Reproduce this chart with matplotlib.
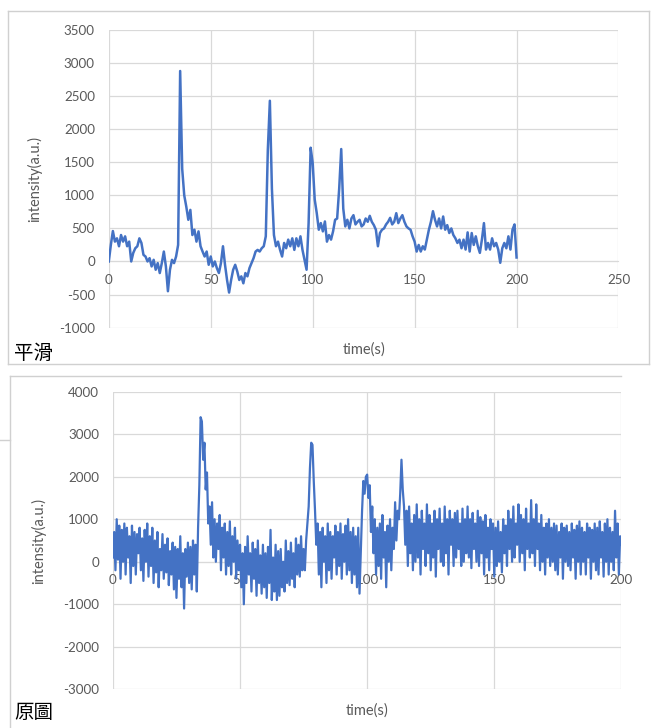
import matplotlib
matplotlib.use("Agg")
import matplotlib.pyplot as plt
from matplotlib.lines import Line2D

# smoothed signal, 1 s steps
smooth_t = list(range(0, 201))
smooth_vals = [
    0, 250, 460, 300, 350, 230, 400, 300, 380, 230,
    300, 0, 130, 200, 230, 350, 280, 100, 75, 0,
    50, -75, 25, -125, -25, -175, -25, 150, -75, -450,
    -125, 25, -25, 75, 250, 2880, 1400, 1000, 830, 630,
    780, 400, 480, 300, 455, 230, 150, 75, 150, -50,
    75, -75, 0, -100, -175, -25, 230, -50, -280, -470,
    -280, -125, -50, -150, -280, -225, -330, -175, -225, -100,
    -25, 50, 150, 175, 150, 200, 230, 380, 1690, 2430,
    1100, 400, 230, 300, 175, 75, 280, 200, 330, 230,
    350, 175, 350, 230, 380, 175, 25, -125, 580, 1720,
    1490, 935, 730, 480, 580, 455, 605, 300, 400, 330,
    455, 630, 650, 1100, 1700, 800, 530, 630, 500, 650,
    700, 560, 600, 630, 530, 560, 650, 600, 690, 600,
    550, 480, 230, 430, 480, 500, 560, 600, 660, 560,
    600, 730, 580, 650, 700, 600, 530, 500, 480, 380,
    300, 150, 250, 150, 230, 180, 330, 480, 600, 760,
    630, 530, 650, 500, 680, 480, 550, 430, 500, 400,
    350, 280, 330, 200, 330, 180, 440, 150, 430, 250,
    380, 230, 130, 330, 580, 180, 280, 180, 350, 230,
    280, 180, -20, 200, 280, 200, 380, 180, 480, 560,
    60,
]

# raw signal, 0.5 s steps
raw_t = [i * 0.5 for i in range(401)]
raw_vals = [
    100, 700, -200, 1000, 50, 850, -400, 750, 0, 900,
    -300, 800, 100, 600, -500, 850, -100, 700, -300, 650,
    200, 800, -200, 550, -450, 750, 0, 900, -350, 600,
    -100, 800, -500, 500, -250, 700, -600, 300, -200, 650,
    -400, 400, -250, 550, -550, 250, -300, 450, -650, 350,
    -850, 300, -400, 600, -600, 200, -1100, 300, -350, 450,
    -500, 350, -650, 500, -300, 400, -700, 800, 1800, 3400,
    3300, 2400, 2800, 1700, 2100, 900, 1300, 400, 1400, 100,
    1000, 0, 900, 300, 1100, -200, 800, 100, 900, -300,
    700, -100, 950, -300, 600, 0, 800, -400, 500, -200,
    400, -600, 200, -1000, 350, -500, 600, -300, 200, -700,
    450, -400, 300, -800, 500, -500, 150, -750, 400, -600,
    200, -850, 350, -500, 750, -900, 100, -700, 400, -900,
    250, -800, 300, -600, 0, -700, 500, -500, 250, -550,
    450, -400, 200, -600, 550, -300, 400, -350, 600, -200,
    300, -200, 500, 900, 1300, 2200, 2800, 2750, 1900, 1200,
    400, 900, -300, 700, -600, 800, 0, 600, -500, 900,
    -200, 700, -400, 600, 100, 850, -300, 700, -100, 900,
    -400, 650, 0, 850, -300, 1000, -200, 700, -500, 800,
    -300, 600, -600, 800, -750, 200, 1200, 1900, 1600, 2000,
    2050, 1500, 1800, 700, 1300, 200, 1000, -300, 800, -100,
    900, -400, 1100, 100, 700, -600, 850, 0, 1000, -200,
    800, 300, 1400, 500, 1200, 1000, 1600, 2400, 1700, 1300,
    400, 1200, -100, 1300, 200, 900, -200, 1100, 0, 1350,
    100, 1000, -300, 1200, 300, 900, -100, 1350, 200, 1100,
    -200, 900, 100, 1200, -350, 1000, 300, 1250, 0, 900,
    -100, 1300, 200, 1000, -300, 1200, 400, 1000, -100, 1150,
    100, 1200, 300, 900, -100, 1250, 0, 1000, 200, 1300,
    100, 1000, -150, 1150, 300, 900, 0, 1200, -100, 1050,
    200, 950, -300, 1100, 100, 800, -200, 1000, 300, 900,
    -350, 800, -100, 950, 0, 700, -250, 1000, 200, 850,
    -100, 1200, 300, 1000, 0, 1300, 100, 900, 400, 1350,
    0, 1100, 200, 1000, -200, 1250, 300, 900, 100, 1450,
    200, 1000, -100, 1350, 300, 900, -200, 1100, 0, 800,
    -300, 900, 100, 1000, -100, 800, 0, 900, -200, 850,
    -300, 700, 100, 900, -400, 800, 0, 850, -100, 700,
    -200, 900, 100, 750, -400, 850, 0, 950, -300, 800,
    0, 700, -300, 900, 100, 800, -400, 750, 0, 900,
    -200, 800, -300, 950, 100, 700, -350, 900, 0, 1000,
    -300, 800, 0, 700, -200, 1200, 100, 900, -300, 600,
    400,
]

W, H = 651, 728
BLUE = "#4472C4"
GRID = "#D9D9D9"
TXT = "#595959"
plt.rcParams["font.family"] = ["Lato", "DejaVu Sans"]
plt.rcParams["axes.unicode_minus"] = False

fig = plt.figure(figsize=(W / 100, H / 100), dpi=100)


def px_axes(x0, y0, x1, y1):
    # pixel box (top-left origin) -> figure axes
    return fig.add_axes([x0 / W, 1 - y1 / H, (x1 - x0) / W, (y1 - y0) / H])


def px_line(xs, ys, color="#D0D0D0", lw=1.0):
    fig.add_artist(Line2D([x / W for x in xs], [1 - y / H for y in ys],
                          color=color, lw=lw, transform=fig.transFigure))


def style_axes(ax, xlim, xticks, ylim, yticks):
    ax.set_xlim(*xlim)
    ax.set_ylim(*ylim)
    ax.set_xticks(xticks)
    ax.set_yticks(yticks)
    ax.grid(True, color=GRID, lw=0.9)
    ax.set_axisbelow(True)
    for s in ["top", "right", "left"]:
        ax.spines[s].set_visible(False)
    ax.spines["bottom"].set_position(("data", 0))
    ax.spines["bottom"].set_color(GRID)
    ax.tick_params(axis="both", length=0, labelsize=9.6, labelcolor=TXT)
    ax.tick_params(axis="x", pad=9)
    ax.tick_params(axis="y", pad=10)
    ax.set_xlabel("time(s)", fontsize=10.5, color=TXT)
    ax.set_ylabel("intensity(a.u.)", fontsize=10.5, color=TXT)
    ax.patch.set_alpha(0)


# panel frames
px_line([8, 649], [11, 11])
px_line([8, 8], [11, 364])
px_line([649, 649], [11, 364])
px_line([8, 649], [364, 364])
px_line([10, 621], [376, 376])
px_line([10, 10], [376, 728])
px_line([0, 10], [440, 440])

# top: smoothed
ax1 = px_axes(108.8, 30, 618.5, 327.6)
style_axes(ax1, (0, 250), range(0, 251, 50), (-1000, 3500), range(-1000, 3501, 500))
ax1.plot(smooth_t, smooth_vals, color=BLUE, lw=1.8, zorder=3)
ax1.xaxis.set_label_coords(0.5, -0.048)
ax1.yaxis.set_label_coords(-0.131, 0.5)

# bottom: raw
ax2 = px_axes(112.9, 391.7, 621.4, 689.3)
style_axes(ax2, (0, 200), range(0, 201, 50), (-3000, 4000), range(-3000, 4001, 1000))
ax2.plot(raw_t, raw_vals, color=BLUE, lw=1.6, zorder=3)
ax2.xaxis.set_label_coords(0.5, -0.047)
ax2.yaxis.set_label_coords(-0.132, 0.5)

fig.text(14 / W, 1 - 353 / H, "平滑", fontsize=14, va="center", ha="left",
         family=["Noto Sans CJK TC", "DejaVu Sans"], color="black")
fig.text(14 / W, 1 - 712 / H, "原圖", fontsize=14, va="center", ha="left",
         family=["Noto Sans CJK TC", "DejaVu Sans"], color="black")

fig.savefig("out.png", dpi=100)
